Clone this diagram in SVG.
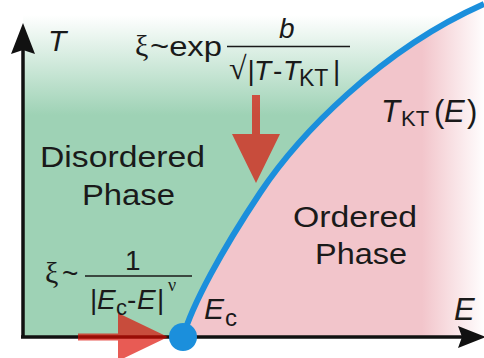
<svg xmlns="http://www.w3.org/2000/svg" width="484" height="358" viewBox="0 0 484 358">
<style>
.t{font-family:"Liberation Sans",Arial,sans-serif;fill:#1a1a1a}
.i{font-style:italic}
.g{font-family:"Liberation Serif","Times New Roman",serif;fill:#1a1a1a}
.ax{stroke:#111;stroke-width:3.5;fill:none}
.arw{fill:#111}
.red{fill:#dd0a00;fill-opacity:0.67}
.bar{stroke:#1a1a1a;stroke-width:1.6}
</style>
<defs>
<linearGradient id="gg" gradientUnits="userSpaceOnUse" x1="0" y1="15" x2="0" y2="115">
<stop offset="0" stop-color="#9ed2b5" stop-opacity="0"/>
<stop offset="1" stop-color="#9ed2b5" stop-opacity="1"/>
</linearGradient>
<linearGradient id="pg" gradientUnits="userSpaceOnUse" x1="422" y1="0" x2="486" y2="0">
<stop offset="0" stop-color="#f2c5cb" stop-opacity="1"/>
<stop offset="1" stop-color="#f2c5cb" stop-opacity="0"/>
</linearGradient>
</defs>
<rect width="484" height="358" fill="#fff"/>
<g id="regions">
<path id="disordered-region" d="M23,0 L23,337 L183,337 C192,305 222,250 260,193 S380,50 484,4 L484,0 Z" fill="url(#gg)"/>
<path id="ordered-region" d="M183,337 C192,305 222,250 260,193 S380,50 484,4 L484,337 Z" fill="url(#pg)"/>
</g>
<g id="arrow-down">
<polygon class="red" points="252,95 260,95 260,134 280,134 256,183 232,134 252,134"/>
</g>
<g id="axes">
<line class="ax" x1="23" y1="337" x2="23" y2="48"/>
<polygon class="arw" points="23,23 35,54 23,50 11,54"/>
<line class="ax" x1="21" y1="337" x2="465" y2="337"/>
<polygon class="arw" points="486,337 458,348 462,337 458,326"/>
</g>
<g id="connectors">
<path id="tkt-curve" d="M183,337 C192,305 222,250 260,193 S380,50 484,4" fill="none" stroke="#1b8fdc" stroke-width="6"/>
</g>
<g id="arrow-right">
<polygon class="red" points="78,333.5 118,333.5 118,313 168,337 118,361 118,340.5 78,340.5"/>
</g>
<g id="critical-point">
<circle cx="183" cy="337" r="14" fill="#1b8fdc"/>
</g>
<g id="labels">
<text class="t i" x="48" y="51" font-size="30">T</text>
<text class="t i" x="454" y="320" font-size="31">E</text>
<text class="t" x="40" y="167" font-size="30" textLength="165" lengthAdjust="spacingAndGlyphs">Disordered</text>
<text class="t" x="82" y="205" font-size="30" textLength="93" lengthAdjust="spacingAndGlyphs">Phase</text>
<text class="t" x="293" y="227" font-size="30" textLength="124" lengthAdjust="spacingAndGlyphs">Ordered</text>
<text class="t" x="315" y="264" font-size="30" textLength="92" lengthAdjust="spacingAndGlyphs">Phase</text>
<text class="t i" x="381" y="122" font-size="31">T</text>
<text class="t" x="401" y="126" font-size="22">KT</text>
<text class="t" x="434" y="122" font-size="31">(</text>
<text class="t i" x="444" y="122" font-size="31">E</text>
<text class="t" x="467" y="122" font-size="31">)</text>
<text class="t i" x="204" y="319" font-size="30">E</text>
<text class="t" x="225" y="326" font-size="24">c</text>
</g>
<g id="formula-top">
<text class="g" x="135" y="56" font-size="30">ξ</text>
<text class="t" x="150" y="56" font-size="28" textLength="72" lengthAdjust="spacingAndGlyphs">~exp</text>
<line class="bar" x1="227" y1="46.5" x2="350" y2="46.5"/>
<text class="t i" x="279" y="38" font-size="28">b</text>
<text class="g" x="229" y="79" font-size="32">√</text>
<text class="t" x="247.5" y="80" font-size="28">|</text>
<text class="t i" x="254" y="80" font-size="28">T</text>
<text class="t" x="273" y="80" font-size="28">-</text>
<text class="t i" x="283" y="80" font-size="28">T</text>
<text class="t" x="299" y="86" font-size="23">KT</text>
<text class="t" x="333" y="80" font-size="28">|</text>
</g>
<g id="formula-bottom">
<text class="g" x="45" y="283" font-size="30">ξ</text>
<text class="t" x="62" y="283" font-size="28">~</text>
<line class="bar" x1="85" y1="276" x2="192" y2="276"/>
<text class="t" x="125" y="270" font-size="28">1</text>
<text class="t" x="90" y="309" font-size="28">|</text>
<text class="t i" x="97" y="309" font-size="28">E</text>
<text class="t" x="116" y="315" font-size="22">c</text>
<text class="t" x="127" y="309" font-size="28">-</text>
<text class="t i" x="137" y="309" font-size="28">E</text>
<text class="t" x="157" y="309" font-size="28">|</text>
<text class="g" x="168" y="291" font-size="18">ν</text>
</g>
</svg>
